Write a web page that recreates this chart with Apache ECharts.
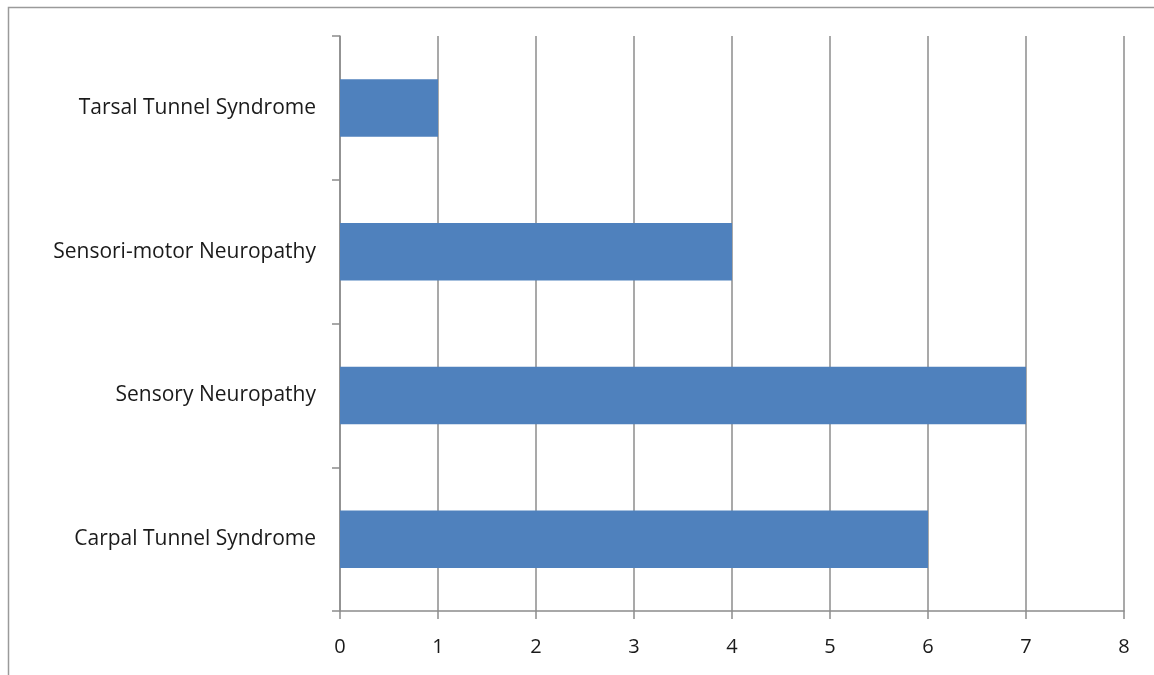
<!DOCTYPE html>
<html>
<head>
<meta charset="utf-8">
<script src="https://cdn.jsdelivr.net/npm/echarts@6/dist/echarts.min.js"></script>
<style>
  html, body { margin: 0; padding: 0; background: #fff; }
  #chart { width: 1154px; height: 675px; }
</style>
</head>
<body>
<div id="chart"></div>
<script>
// Diagnoses, listed bottom to top on the category axis
const categories = [
  'Carpal Tunnel Syndrome',
  'Sensory Neuropathy',
  'Sensori-motor Neuropathy',
  'Tarsal Tunnel Syndrome'
];
// Number of cases per diagnosis
const counts = [6, 7, 4, 1];
// Value axis range
const xMin = 0;
const xMax = 8;
const xStep = 1;

const chart = echarts.init(document.getElementById('chart'), null, { renderer: 'canvas' });
const axisGray = '#8c8c8c';
const fontFamily = '"Open Sans", "Liberation Sans", sans-serif';

chart.setOption({
  animation: false,
  backgroundColor: '#fff',
  graphic: [{
    type: 'rect',
    shape: { x: 8.5, y: 7.5, width: 1160, height: 680 },
    style: { fill: 'none', stroke: '#9a9a9a', lineWidth: 1.5 },
    silent: true
  }],
  grid: { left: 340, right: 30, top: 36, bottom: 64 },
  xAxis: {
    type: 'value',
    min: xMin,
    max: xMax,
    interval: xStep,
    axisLine: { show: true, lineStyle: { color: axisGray, width: 1.5 } },
    axisTick: { show: true, length: 8, inside: false, lineStyle: { color: axisGray, width: 1.5 } },
    splitLine: { show: true, lineStyle: { color: axisGray, width: 1.5 } },
    axisLabel: { margin: 26, fontFamily: fontFamily, fontSize: 20, color: '#1a1a1a' }
  },
  yAxis: {
    type: 'category',
    data: categories,
    boundaryGap: true,
    axisLine: { show: true, lineStyle: { color: axisGray, width: 1.5 } },
    axisTick: { show: true, length: 8, alignWithLabel: false, lineStyle: { color: axisGray, width: 1.5 } },
    splitLine: { show: false },
    axisLabel: { margin: 24, fontFamily: fontFamily, fontSize: 21, color: '#1a1a1a', padding: [4, 0, 0, 0] }
  },
  series: [{
    type: 'bar',
    data: counts,
    barWidth: '40%',
    itemStyle: { color: '#4f81bd' }
  }]
});
</script>
</body>
</html>
